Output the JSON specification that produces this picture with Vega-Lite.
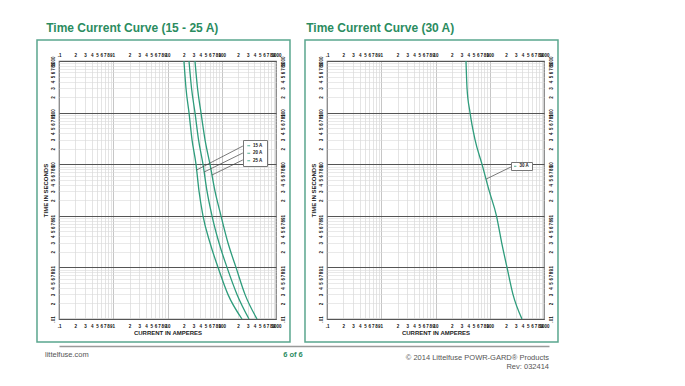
{
  "$schema": "https://vega.github.io/schema/vega-lite/v6.json",
  "background": "white",
  "padding": {"left": 35, "top": 21, "right": 5, "bottom": 5},
  "config": {
    "font": "Liberation Sans Narrow, Liberation Sans, sans-serif",
    "view": {"stroke": "#666", "strokeWidth": 1.2},
    "axis": {
      "labelFontSize": 4.5,
      "labelFontWeight": "bold",
      "labelColor": "#111",
      "ticks": false,
      "domain": false,
      "labelOverlap": false,
      "labelFlush": false,
      "labelBound": false,
      "labelPadding": 4,
      "titleFontSize": 6,
      "titleFontWeight": "bold",
      "titleColor": "#222"
    }
  },
  "datasets": {
    "curves1": [
      {"rating": "15 A", "current": 20.1, "time": 1000},
      {"rating": "15 A", "current": 21.9, "time": 300},
      {"rating": "15 A", "current": 24.9, "time": 100},
      {"rating": "15 A", "current": 28.3, "time": 30},
      {"rating": "15 A", "current": 33.5, "time": 10},
      {"rating": "15 A", "current": 38.1, "time": 3},
      {"rating": "15 A", "current": 45.1, "time": 1},
      {"rating": "15 A", "current": 60.7, "time": 0.3},
      {"rating": "15 A", "current": 85.3, "time": 0.1},
      {"rating": "15 A", "current": 130, "time": 0.03},
      {"rating": "15 A", "current": 236, "time": 0.01},
      {"rating": "20 A", "current": 24.9, "time": 1000},
      {"rating": "20 A", "current": 27.7, "time": 300},
      {"rating": "20 A", "current": 32.1, "time": 100},
      {"rating": "20 A", "current": 37.3, "time": 30},
      {"rating": "20 A", "current": 45.1, "time": 10},
      {"rating": "20 A", "current": 53.5, "time": 3},
      {"rating": "20 A", "current": 66.1, "time": 1},
      {"rating": "20 A", "current": 88.9, "time": 0.3},
      {"rating": "20 A", "current": 125, "time": 0.1},
      {"rating": "20 A", "current": 191, "time": 0.03},
      {"rating": "20 A", "current": 318, "time": 0.01},
      {"rating": "25 A", "current": 32.1, "time": 1000},
      {"rating": "25 A", "current": 35.7, "time": 300},
      {"rating": "25 A", "current": 41.4, "time": 100},
      {"rating": "25 A", "current": 49.1, "time": 30},
      {"rating": "25 A", "current": 60.7, "time": 10},
      {"rating": "25 A", "current": 75.1, "time": 3},
      {"rating": "25 A", "current": 96.8, "time": 1},
      {"rating": "25 A", "current": 130, "time": 0.3},
      {"rating": "25 A", "current": 183, "time": 0.1},
      {"rating": "25 A", "current": 268, "time": 0.03},
      {"rating": "25 A", "current": 447, "time": 0.01}
    ],
    "leaders1": [
      {"rating": "15 A", "current": 34.4, "time": 7.72, "labelCurrent": 245, "labelTime": 22.5},
      {"rating": "20 A", "current": 47.4, "time": 7.06, "labelCurrent": 245, "labelTime": 16.5},
      {"rating": "25 A", "current": 66.1, "time": 6.18, "labelCurrent": 245, "labelTime": 12.1}
    ],
    "curves2": [
      {"rating": "30 A", "current": 36.5, "time": 1000},
      {"rating": "30 A", "current": 38.1, "time": 300},
      {"rating": "30 A", "current": 43.3, "time": 100},
      {"rating": "30 A", "current": 53.5, "time": 30},
      {"rating": "30 A", "current": 71.9, "time": 10},
      {"rating": "30 A", "current": 98, "time": 3},
      {"rating": "30 A", "current": 133, "time": 1},
      {"rating": "30 A", "current": 166, "time": 0.3},
      {"rating": "30 A", "current": 208, "time": 0.1},
      {"rating": "30 A", "current": 268, "time": 0.03},
      {"rating": "30 A", "current": 393, "time": 0.01}
    ],
    "leaders2": [
      {"rating": "30 A", "current": 86, "time": 5.16, "labelCurrent": 246, "labelTime": 8.83}
    ],
    "footer": [
      {"slot": "left", "text": "littelfuse.com"},
      {"slot": "center", "text": "6 of 6"},
      {"slot": "right", "text": "© 2014 Littelfuse POWR-GARD® Products\nRev: 032414"}
    ]
  },
  "vconcat": [
    {
      "hconcat": [
        {
          "width": 217,
          "height": 258,
          "title": {"text": "Time Current Curve (15 - 25 A)", "anchor": "start", "dx": 10, "offset": 4, "fontSize": 12, "fontWeight": "bold", "color": "#2b8c5f"},
          "resolve": {"axis": {"x": "independent", "y": "independent"}},
          "layer": [
            {
              "data": {"values": [{"frame": "15-25 A"}]},
              "mark": {"type": "rect", "fill": null, "stroke": "#5aa68e", "strokeWidth": 1.5},
              "encoding": {
                "x": {"datum": 0.0393, "type": "quantitative", "scale": {"type": "log", "domain": [0.1, 1000]}, "axis": null},
                "x2": {"datum": 1811},
                "y": {"datum": 2553, "type": "quantitative", "scale": {"type": "log", "domain": [0.01, 1000]}, "axis": null},
                "y2": {"datum": 0.00358}
              }
            },
            {
              "data": {"name": "curves1"},
              "mark": {"type": "line", "strokeWidth": 1.3, "interpolate": "monotone"},
              "encoding": {
                "x": {"field": "current", "type": "quantitative", "scale": {"type": "log", "domain": [0.1, 1000]},
                  "axis": {"orient": "bottom", "title": "CURRENT IN AMPERES", "titlePadding": 2,
                    "values": [0.1,0.2,0.3,0.4,0.5,0.6,0.7,0.8,0.9,1,2,3,4,5,6,7,8,9,10,20,30,40,50,60,70,80,90,100,200,300,400,500,600,700,800,900,1000],
                    "labelExpr": "abs(log(datum.value)/LN10 - round(log(datum.value)/LN10)) < 0.01 ? (datum.value < 1 ? slice(format(datum.value, '~g'), 1) : format(datum.value, '~g')) : format(datum.value / pow(10, floor(log(datum.value)/LN10 + 1e-9)), '.0f')",
                    "grid": true,
                    "gridColor": {"condition": {"test": "abs(log(datum.value)/LN10 - round(log(datum.value)/LN10)) < 0.01", "value": "#a0a0a0"}, "value": "#d2d2d2"},
                    "gridWidth": 0.6}},
                "y": {"field": "time", "type": "quantitative", "scale": {"type": "log", "domain": [0.01, 1000]},
                  "axis": {"orient": "left", "title": "TIME IN SECONDS", "titlePadding": 2, "labelAngle": -90,
                    "values": [0.01,0.02,0.03,0.04,0.05,0.06,0.07,0.08,0.09,0.1,0.2,0.3,0.4,0.5,0.6,0.7,0.8,0.9,1,2,3,4,5,6,7,8,9,10,20,30,40,50,60,70,80,90,100,200,300,400,500,600,700,800,900,1000],
                    "labelExpr": "abs(log(datum.value)/LN10 - round(log(datum.value)/LN10)) < 0.01 ? (datum.value < 1 ? slice(format(datum.value, '~g'), 1) : format(datum.value, '~g')) : format(datum.value / pow(10, floor(log(datum.value)/LN10 + 1e-9)), '.0f')",
                    "grid": true,
                    "gridColor": {"condition": {"test": "abs(log(datum.value)/LN10 - round(log(datum.value)/LN10)) < 0.01", "value": "#555555"}, "value": "#dadada"},
                    "gridWidth": {"condition": {"test": "abs(log(datum.value)/LN10 - round(log(datum.value)/LN10)) < 0.01", "value": 1.1}, "value": 0.6}}},
                "color": {"field": "rating", "type": "nominal",
                  "scale": {"domain": ["15 A", "20 A", "25 A"], "range": ["#2e9c7c", "#2e9c7c", "#2e9c7c"]},
                  "legend": {"orient": "none", "legendX": 184, "legendY": 79, "title": null, "fillColor": "white", "strokeColor": "#777", "padding": 3.5,
                    "symbolType": "stroke", "symbolSize": 8, "symbolStrokeWidth": 0.8, "symbolStrokeColor": "#222",
                    "labelFontSize": 4.5, "labelFontWeight": "bold", "labelColor": "#222", "rowPadding": 2.5, "labelOffset": 2}}
              }
            },
            {
              "data": {"name": "leaders1"},
              "mark": {"type": "rule", "color": "#444", "strokeWidth": 0.7},
              "encoding": {
                "x": {"field": "current", "type": "quantitative", "scale": {"type": "log", "domain": [0.1, 1000]},
                  "axis": {"orient": "top", "title": null, "grid": false,
                    "values": [0.1,0.2,0.3,0.4,0.5,0.6,0.7,0.8,0.9,1,2,3,4,5,6,7,8,9,10,20,30,40,50,60,70,80,90,100,200,300,400,500,600,700,800,900,1000],
                    "labelExpr": "abs(log(datum.value)/LN10 - round(log(datum.value)/LN10)) < 0.01 ? (datum.value < 1 ? slice(format(datum.value, '~g'), 1) : format(datum.value, '~g')) : format(datum.value / pow(10, floor(log(datum.value)/LN10 + 1e-9)), '.0f')"}},
                "x2": {"field": "labelCurrent"},
                "y": {"field": "time", "type": "quantitative", "scale": {"type": "log", "domain": [0.01, 1000]},
                  "axis": {"orient": "right", "title": null, "grid": false, "labelAngle": -90,
                    "values": [0.01,0.02,0.03,0.04,0.05,0.06,0.07,0.08,0.09,0.1,0.2,0.3,0.4,0.5,0.6,0.7,0.8,0.9,1,2,3,4,5,6,7,8,9,10,20,30,40,50,60,70,80,90,100,200,300,400,500,600,700,800,900,1000],
                    "labelExpr": "abs(log(datum.value)/LN10 - round(log(datum.value)/LN10)) < 0.01 ? (datum.value < 1 ? slice(format(datum.value, '~g'), 1) : format(datum.value, '~g')) : format(datum.value / pow(10, floor(log(datum.value)/LN10 + 1e-9)), '.0f')"}},
                "y2": {"field": "labelTime"}
              }
            }
          ]
        },
        {
          "width": 217,
          "height": 258,
          "title": {"text": "Time Current Curve (30 A)", "anchor": "start", "dx": 2, "offset": 4, "fontSize": 12, "fontWeight": "bold", "color": "#2b8c5f"},
          "resolve": {"axis": {"x": "independent", "y": "independent"}},
          "layer": [
            {
              "data": {"values": [{"frame": "30 A"}]},
              "mark": {"type": "rect", "fill": null, "stroke": "#5aa68e", "strokeWidth": 1.5},
              "encoding": {
                "x": {"datum": 0.0393, "type": "quantitative", "scale": {"type": "log", "domain": [0.1, 1000]}, "axis": null},
                "x2": {"datum": 1811},
                "y": {"datum": 2553, "type": "quantitative", "scale": {"type": "log", "domain": [0.01, 1000]}, "axis": null},
                "y2": {"datum": 0.00358}
              }
            },
            {
              "data": {"name": "curves2"},
              "mark": {"type": "line", "strokeWidth": 1.3, "interpolate": "monotone"},
              "encoding": {
                "x": {"field": "current", "type": "quantitative", "scale": {"type": "log", "domain": [0.1, 1000]},
                  "axis": {"orient": "bottom", "title": "CURRENT IN AMPERES", "titlePadding": 2,
                    "values": [0.1,0.2,0.3,0.4,0.5,0.6,0.7,0.8,0.9,1,2,3,4,5,6,7,8,9,10,20,30,40,50,60,70,80,90,100,200,300,400,500,600,700,800,900,1000],
                    "labelExpr": "abs(log(datum.value)/LN10 - round(log(datum.value)/LN10)) < 0.01 ? (datum.value < 1 ? slice(format(datum.value, '~g'), 1) : format(datum.value, '~g')) : format(datum.value / pow(10, floor(log(datum.value)/LN10 + 1e-9)), '.0f')",
                    "grid": true,
                    "gridColor": {"condition": {"test": "abs(log(datum.value)/LN10 - round(log(datum.value)/LN10)) < 0.01", "value": "#a0a0a0"}, "value": "#d2d2d2"},
                    "gridWidth": 0.6}},
                "y": {"field": "time", "type": "quantitative", "scale": {"type": "log", "domain": [0.01, 1000]},
                  "axis": {"orient": "left", "title": "TIME IN SECONDS", "titlePadding": 2, "labelAngle": -90,
                    "values": [0.01,0.02,0.03,0.04,0.05,0.06,0.07,0.08,0.09,0.1,0.2,0.3,0.4,0.5,0.6,0.7,0.8,0.9,1,2,3,4,5,6,7,8,9,10,20,30,40,50,60,70,80,90,100,200,300,400,500,600,700,800,900,1000],
                    "labelExpr": "abs(log(datum.value)/LN10 - round(log(datum.value)/LN10)) < 0.01 ? (datum.value < 1 ? slice(format(datum.value, '~g'), 1) : format(datum.value, '~g')) : format(datum.value / pow(10, floor(log(datum.value)/LN10 + 1e-9)), '.0f')",
                    "grid": true,
                    "gridColor": {"condition": {"test": "abs(log(datum.value)/LN10 - round(log(datum.value)/LN10)) < 0.01", "value": "#555555"}, "value": "#dadada"},
                    "gridWidth": {"condition": {"test": "abs(log(datum.value)/LN10 - round(log(datum.value)/LN10)) < 0.01", "value": 1.1}, "value": 0.6}}},
                "color": {"field": "rating", "type": "nominal",
                  "scale": {"domain": ["30 A"], "range": ["#2e9c7c"]},
                  "legend": {"orient": "none", "legendX": 184, "legendY": 101, "title": null, "fillColor": "white", "strokeColor": "#777", "padding": 2,
                    "symbolType": "stroke", "symbolSize": 6, "symbolStrokeWidth": 0.8, "symbolStrokeColor": "#222",
                    "labelFontSize": 4.5, "labelFontWeight": "bold", "labelColor": "#222", "rowPadding": 2.5, "labelOffset": 2}}
              }
            },
            {
              "data": {"name": "leaders2"},
              "mark": {"type": "rule", "color": "#444", "strokeWidth": 0.7},
              "encoding": {
                "x": {"field": "current", "type": "quantitative", "scale": {"type": "log", "domain": [0.1, 1000]},
                  "axis": {"orient": "top", "title": null, "grid": false,
                    "values": [0.1,0.2,0.3,0.4,0.5,0.6,0.7,0.8,0.9,1,2,3,4,5,6,7,8,9,10,20,30,40,50,60,70,80,90,100,200,300,400,500,600,700,800,900,1000],
                    "labelExpr": "abs(log(datum.value)/LN10 - round(log(datum.value)/LN10)) < 0.01 ? (datum.value < 1 ? slice(format(datum.value, '~g'), 1) : format(datum.value, '~g')) : format(datum.value / pow(10, floor(log(datum.value)/LN10 + 1e-9)), '.0f')"}},
                "x2": {"field": "labelCurrent"},
                "y": {"field": "time", "type": "quantitative", "scale": {"type": "log", "domain": [0.01, 1000]},
                  "axis": {"orient": "right", "title": null, "grid": false, "labelAngle": -90,
                    "values": [0.01,0.02,0.03,0.04,0.05,0.06,0.07,0.08,0.09,0.1,0.2,0.3,0.4,0.5,0.6,0.7,0.8,0.9,1,2,3,4,5,6,7,8,9,10,20,30,40,50,60,70,80,90,100,200,300,400,500,600,700,800,900,1000],
                    "labelExpr": "abs(log(datum.value)/LN10 - round(log(datum.value)/LN10)) < 0.01 ? (datum.value < 1 ? slice(format(datum.value, '~g'), 1) : format(datum.value, '~g')) : format(datum.value / pow(10, floor(log(datum.value)/LN10 + 1e-9)), '.0f')"}},
                "y2": {"field": "labelTime"}
              }
            }
          ]
        }
      ],
      "spacing": 11,
      "resolve": {"scale": {"color": "independent"}, "legend": {"color": "independent"}}
    },
    {
      "width": 490,
      "height": 20,
      "data": {"name": "footer"},
      "view": {"stroke": null},
      "layer": [
        {
          "transform": [{"filter": "datum.slot === 'left'"}],
          "mark": {"type": "text", "align": "left", "baseline": "middle", "fontSize": 7.5, "color": "#555", "dx": -14, "dy": -1},
          "encoding": {
            "x": {"field": "slot", "type": "nominal", "scale": {"type": "point", "domain": ["left", "center", "right"], "padding": 0},
              "axis": {"orient": "top", "title": null, "labels": false, "ticks": false, "domain": true, "domainColor": "#999", "domainWidth": 1.5, "grid": false}},
            "text": {"field": "text"}
          }
        },
        {
          "transform": [{"filter": "datum.slot === 'center'"}],
          "mark": {"type": "text", "align": "center", "baseline": "middle", "fontSize": 7.5, "fontWeight": "bold", "color": "#2b8c5f", "dy": -1, "dx": -11},
          "encoding": {
            "x": {"field": "slot", "type": "nominal"},
            "text": {"field": "text"}
          }
        },
        {
          "transform": [{"filter": "datum.slot === 'right'"}],
          "mark": {"type": "text", "align": "right", "baseline": "middle", "fontSize": 7.5, "color": "#555", "dy": 2, "lineBreak": "\n", "lineHeight": 9},
          "encoding": {
            "x": {"field": "slot", "type": "nominal"},
            "text": {"field": "text"}
          }
        }
      ]
    }
  ],
  "spacing": 2
}
